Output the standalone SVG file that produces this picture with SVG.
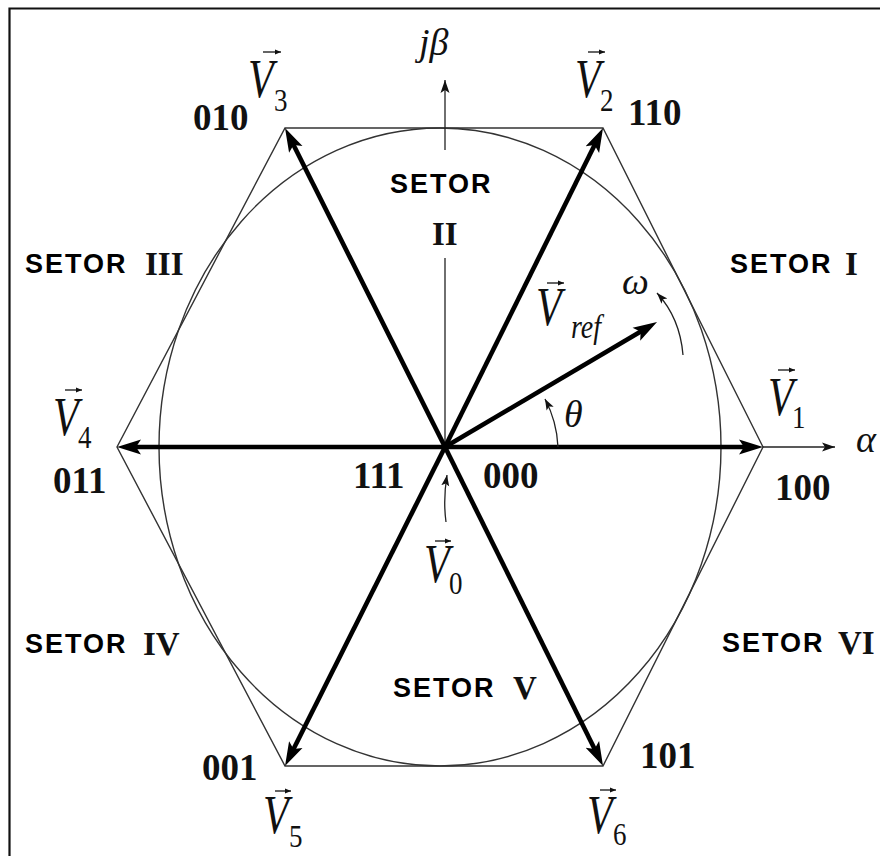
<svg xmlns="http://www.w3.org/2000/svg" width="880" height="856" viewBox="0 0 880 856">
<style>
.frame{fill:none;stroke:#111;stroke-width:2.2}
.thin{fill:none;stroke:#333;stroke-width:1.4}
.axis{fill:none;stroke:#222;stroke-width:1.3}
.vec{fill:none;stroke:#000;stroke-width:4.6}
.vi{font-family:"Liberation Serif","Times New Roman",serif;font-style:italic;font-size:42px;fill:#111}
.vs{font-family:"Liberation Serif","Times New Roman",serif;font-size:27px;fill:#111}
.gr{font-family:"Liberation Serif","Times New Roman",serif;font-style:italic;font-size:38px;fill:#111}
.code{font-family:"Liberation Serif","Times New Roman",serif;font-weight:bold;font-size:37px;fill:#111}
.set{font-family:"Liberation Sans",Arial,sans-serif;font-weight:bold;font-size:27px;letter-spacing:2px;fill:#000}
.rom{font-family:"Liberation Serif","Times New Roman",serif;font-weight:bold;font-size:33px;fill:#111}
.ov{fill:none;stroke:#111;stroke-width:1.3}
</style>
<defs>
<marker id="big" markerUnits="userSpaceOnUse" markerWidth="26" markerHeight="18" viewBox="0 -9 26 18" refX="12" refY="0" orient="auto">
<path d="M0,-7.5 L24,0 L0,7.5 L5,0 z" fill="#000"/>
</marker>
<marker id="ax" markerUnits="userSpaceOnUse" markerWidth="14" markerHeight="10" viewBox="0 -5 14 10" refX="13" refY="0" orient="auto">
<path d="M0,-4.5 L13,0 L0,4.5 L3,0 z" fill="#111"/>
</marker>
<marker id="sm" markerUnits="userSpaceOnUse" markerWidth="12" markerHeight="10" viewBox="0 -5 12 10" refX="11" refY="0" orient="auto">
<path d="M0,-4 L11,0 L0,4 L2.5,0 z" fill="#111"/>
</marker>
<marker id="tiny" markerUnits="userSpaceOnUse" markerWidth="7" markerHeight="6" viewBox="0 -3 7 6" refX="6" refY="0" orient="auto">
<path d="M0,-2.5 L6,0 L0,2.5 z" fill="#111"/>
</marker>
</defs>

<g id="frame">
<path class="frame" d="M9.5,856 V8.5 H880"/>
</g>

<g id="hexagon">
<path class="thin" d="M763,447 L603,128 L285,128 L117,447 L285,766 L603,766 Z"/>
</g>
<g id="circle">
<ellipse class="thin" cx="440" cy="447" rx="281" ry="319"/>
</g>

<g id="connectors">
<path class="axis" d="M445,447 V258"/>
<path class="axis" d="M445,150 V80" marker-end="url(#ax)"/>
<path class="axis" d="M763,447 H835" marker-end="url(#ax)"/>
<line class="vec" x1="445" y1="447" x2="751" y2="447" marker-end="url(#big)"/>
<line class="vec" x1="445" y1="447" x2="129" y2="447" marker-end="url(#big)"/>
<line class="vec" x1="445" y1="447" x2="597.7" y2="138.8" marker-end="url(#big)"/>
<line class="vec" x1="445" y1="447" x2="290.4" y2="138.7" marker-end="url(#big)"/>
<line class="vec" x1="445" y1="447" x2="290.4" y2="755.3" marker-end="url(#big)"/>
<line class="vec" x1="445" y1="447" x2="597.7" y2="755.2" marker-end="url(#big)"/>
<line class="vec" x1="445" y1="447" x2="646.7" y2="328.1" marker-end="url(#big)"/>
<path class="axis" d="M558,447 A113,113 0 0 0 545,399" marker-end="url(#sm)"/>
<path class="axis" d="M683,355 Q680,318 657,293" marker-end="url(#sm)"/>
<path class="axis" d="M446,522 Q443,500 447,475" marker-end="url(#sm)"/>
</g>

<g id="axis-labels">
<text class="gr" x="419" y="55">jβ</text>
<text class="gr" x="856" y="452">α</text>
<text class="gr" x="564" y="427">θ</text>
<text class="gr" x="622" y="294">ω</text>
</g>

<g id="v1">
<text class="vi" transform="translate(768,415) scale(1,1.3)">V</text>
<text class="vs" transform="translate(792,428) scale(1,1.2)">1</text>
<path class="ov" d="M778,370 H795" marker-end="url(#tiny)"/>
<text class="code" x="775" y="500">100</text>
</g>
<g id="v2">
<text class="vi" transform="translate(575,97) scale(1,1.3)">V</text>
<text class="vs" transform="translate(600,111) scale(1,1.2)">2</text>
<path class="ov" d="M588,52 H605" marker-end="url(#tiny)"/>
<text class="code" x="628" y="125">110</text>
</g>
<g id="v3">
<text class="vi" transform="translate(248,97) scale(1,1.3)">V</text>
<text class="vs" transform="translate(274,111) scale(1,1.2)">3</text>
<path class="ov" d="M263,52 H281" marker-end="url(#tiny)"/>
<text class="code" x="193" y="130">010</text>
</g>
<g id="v4">
<text class="vi" transform="translate(53,435) scale(1,1.3)">V</text>
<text class="vs" transform="translate(78,448) scale(1,1.2)">4</text>
<path class="ov" d="M65,390 H82" marker-end="url(#tiny)"/>
<text class="code" x="53" y="493">011</text>
</g>
<g id="v5">
<text class="vi" transform="translate(263,833) scale(1,1.3)">V</text>
<text class="vs" transform="translate(289,847) scale(1,1.2)">5</text>
<path class="ov" d="M275,791 H291" marker-end="url(#tiny)"/>
<text class="code" x="202" y="780">001</text>
</g>
<g id="v6">
<text class="vi" transform="translate(587,833) scale(1,1.3)">V</text>
<text class="vs" transform="translate(613,845) scale(1,1.2)">6</text>
<path class="ov" d="M600,790 H616" marker-end="url(#tiny)"/>
<text class="code" x="640" y="768">101</text>
</g>
<g id="v0">
<text class="vi" transform="translate(424,582) scale(1,1.3)">V</text>
<text class="vs" transform="translate(449,594) scale(1,1.2)">0</text>
<path class="ov" d="M435,541 H451" marker-end="url(#tiny)"/>
<text class="code" x="353" y="488">111</text>
<text class="code" x="483" y="488">000</text>
</g>
<g id="vref">
<text class="vi" transform="translate(536,325) scale(1,1.3)">V</text>
<text class="vi" style="font-size:28px" transform="translate(571,338) scale(1,1.2)">ref</text>
<path class="ov" d="M547,283 H564" marker-end="url(#tiny)"/>
</g>

<g id="sector1"><text class="set" x="730" y="273">SETOR</text><text class="rom" x="845" y="275">I</text></g>
<g id="sector2"><text class="set" x="390" y="193">SETOR</text><text class="rom" x="432" y="245">II</text></g>
<g id="sector3"><text class="set" x="25" y="273">SETOR</text><text class="rom" x="145" y="275">III</text></g>
<g id="sector4"><text class="set" x="25" y="653">SETOR</text><text class="rom" x="143" y="655">IV</text></g>
<g id="sector5"><text class="set" x="393" y="697">SETOR</text><text class="rom" x="513" y="699">V</text></g>
<g id="sector6"><text class="set" x="722" y="652">SETOR</text><text class="rom" x="838" y="654">VI</text></g>
</svg>
